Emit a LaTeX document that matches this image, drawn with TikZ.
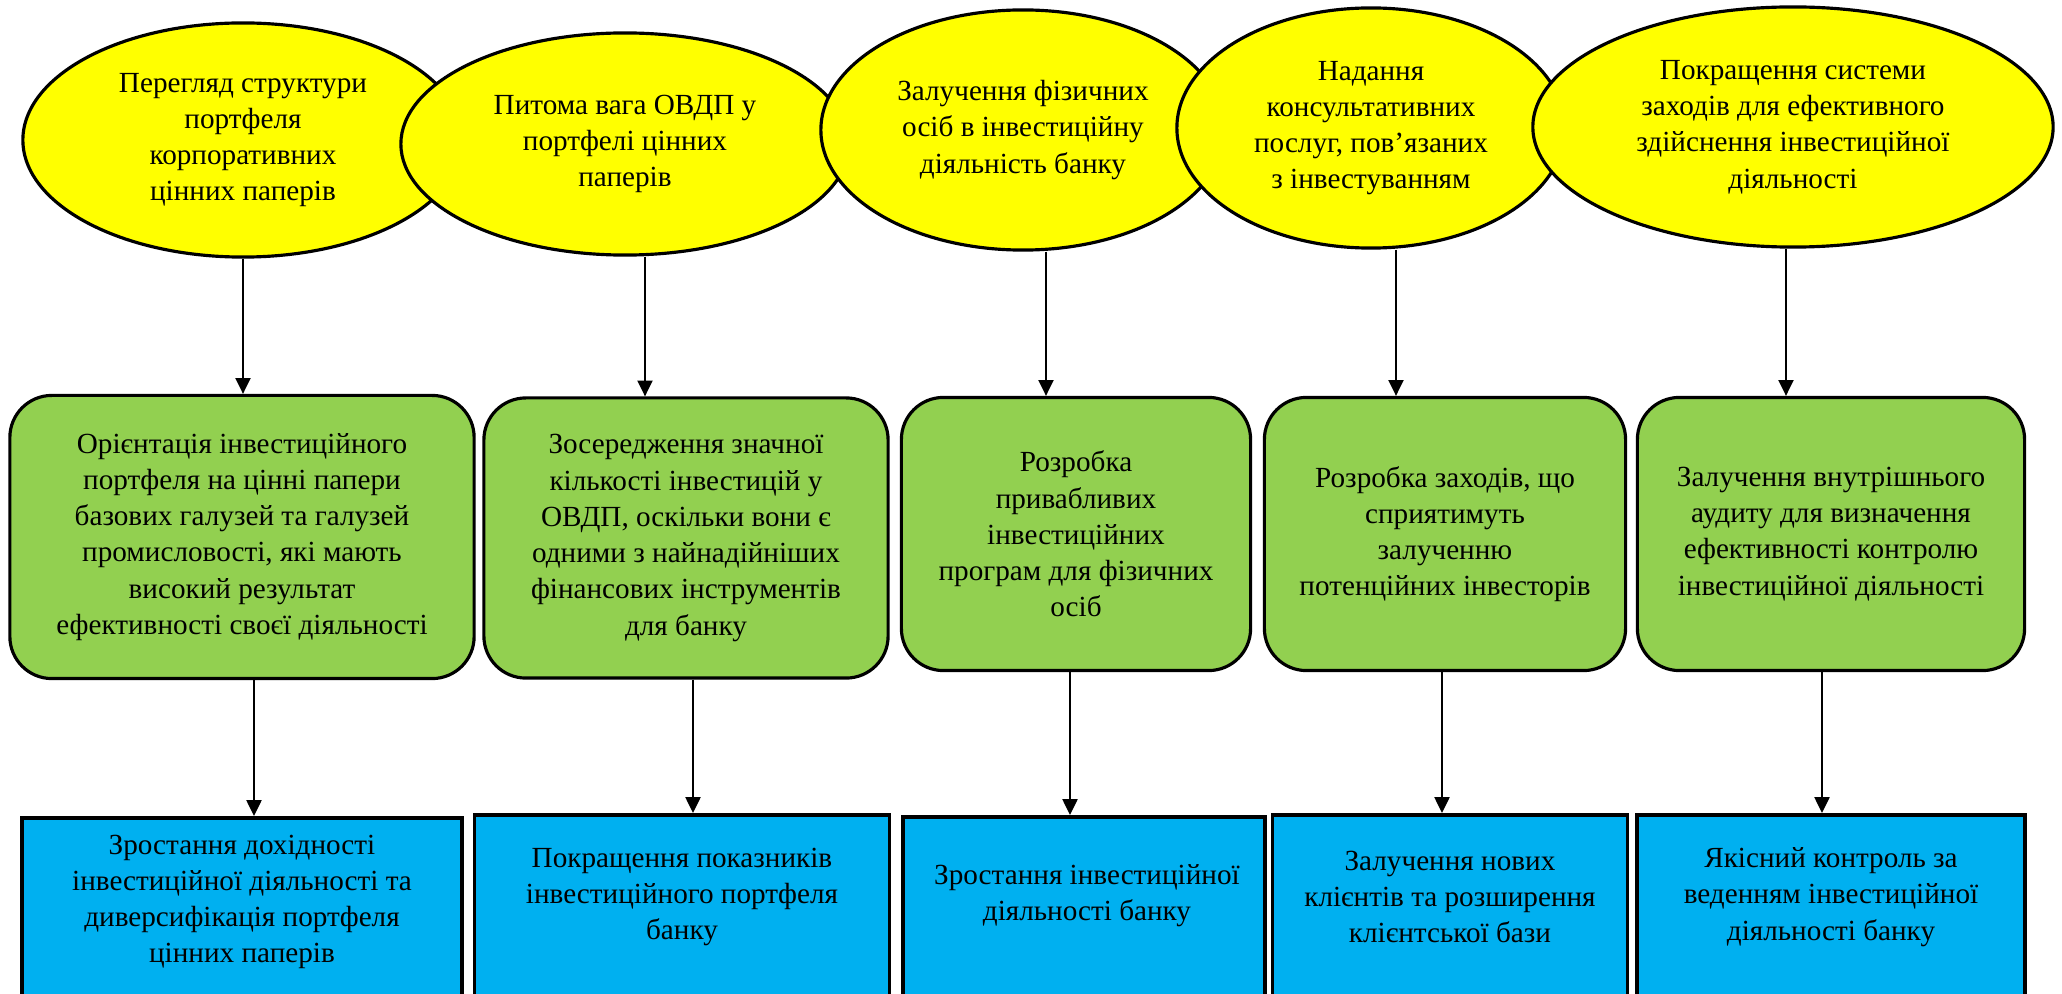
\documentclass[tikz,border=0pt]{standalone}
\usepackage{fontspec}
\setmainfont{Liberation Serif}
\usetikzlibrary{shapes.geometric,arrows.meta}
\definecolor{ovalyellow}{HTML}{FFFF00}
\definecolor{stepgreen}{HTML}{92D050}
\definecolor{resultblue}{HTML}{00B0F0}
\begin{document}
\begin{tikzpicture}[x=0.01cm, y=-0.01cm, align=center,
		font=\fontsize{8.3}{10.3}\selectfont,
		oval/.style={ellipse, draw, fill=ovalyellow, line width=0.9pt, inner sep=0pt},
		measure/.style={draw, fill=stepgreen, rounded corners=0.42cm, line width=0.9pt, inner sep=0pt},
		result/.style={draw, fill=resultblue, line width=1pt, minimum height=2.2cm, anchor=north},
		arr/.style={-{Triangle[width=4.3pt,length=4.5pt]}, line width=0.45pt}]
		\clip (0,0) rectangle (2062,994);
		% goals
		\node[oval, minimum width=4.40cm, minimum height=2.34cm] (e1) at (243,140) {Перегляд структури\\портфеля\\корпоративних\\цінних паперів};
		\node[oval, minimum width=4.48cm, minimum height=2.22cm] (e2) at (625,144) {Питома вага ОВДП у\\портфелі цінних\\паперів};
		\node[oval, minimum width=4.04cm, minimum height=2.40cm] (e3) at (1023,130) {Залучення фізичних\\осіб в інвестиційну\\діяльність банку};
		\node[oval, minimum width=3.88cm, minimum height=2.40cm] (e4) at (1371,128) {Надання\\консультативних\\послуг, пов’язаних\\з інвестуванням};
		\node[oval, minimum width=5.20cm, minimum height=2.40cm] (e5) at (1793,127) {Покращення системи\\заходів для ефективного\\здійснення інвестиційної\\діяльності};
		% measures
		\node[measure, minimum width=4.64cm, minimum height=2.83cm] (g1) at (242,537) {Орієнтація інвестиційного\\портфеля на цінні папери\\базових галузей та галузей\\промисловості, які мають\\високий результат\\ефективності своєї діяльності};
		\node[measure, minimum width=4.04cm, minimum height=2.80cm] (g2) at (686,538) {Зосередження значної\\кількості інвестицій у\\ОВДП, оскільки вони є\\одними з найнадійніших\\фінансових інструментів\\для банку};
		\node[measure, minimum width=3.49cm, minimum height=2.73cm] (g3) at (1076,534) {Розробка\\привабливих\\інвестиційних\\програм для фізичних\\осіб};
		\node[measure, minimum width=3.61cm, minimum height=2.73cm] (g4) at (1445,534) {Розробка заходів, що\\сприятимуть\\залученню\\потенційних інвесторів};
		\node[measure, minimum width=3.87cm, minimum height=2.73cm] (g5) at (1831,534) {Залучення внутрішнього\\аудиту для визначення\\ефективності контролю\\інвестиційної діяльності};
		% results
		\node[result, minimum width=4.40cm] (b1) at (242,816) {};
		\node[result, minimum width=4.15cm] (b2) at (682,813) {};
		\node[result, minimum width=3.62cm] (b3) at (1084,815) {};
		\node[result, minimum width=3.55cm] (b4) at (1450,813) {};
		\node[result, minimum width=3.88cm] (b5) at (1831,813) {};
		\node (t1) at (242,902) {Зростання дохідності\\інвестиційної діяльності та\\диверсифікація портфеля\\цінних паперів};
		\node (t2) at (682,897) {Покращення показників\\інвестиційного портфеля\\банку};
		\node (t3) at (1087,896) {Зростання інвестиційної\\діяльності банку};
		\node (t4) at (1450,897) {Залучення нових\\клієнтів та розширення\\клієнтської бази};
		\node (t5) at (1831,897) {Якісний контроль за\\веденням інвестиційної\\діяльності банку};
		% connectors
		\draw[arr] (e1.south -| 243,0) -- (g1.north -| 243,0);
		\draw[arr] (e2.south -| 645,0) -- (g2.north -| 645,0);
		\draw[arr] (e3.south -| 1046,0) -- (g3.north -| 1046,0);
		\draw[arr] (e4.south -| 1396,0) -- (g4.north -| 1396,0);
		\draw[arr] (e5.south -| 1786,0) -- (g5.north -| 1786,0);
		\draw[arr] (g1.south -| 254,0) -- (b1.north -| 254,0);
		\draw[arr] (g2.south -| 693,0) -- (b2.north -| 693,0);
		\draw[arr] (g3.south -| 1070,0) -- (b3.north -| 1070,0);
		\draw[arr] (g4.south -| 1442,0) -- (b4.north -| 1442,0);
		\draw[arr] (g5.south -| 1822,0) -- (b5.north -| 1822,0);
\end{tikzpicture}
\end{document}
